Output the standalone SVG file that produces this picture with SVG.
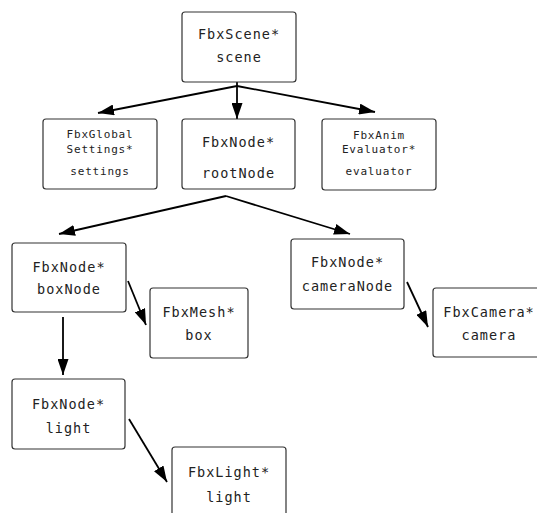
<svg xmlns="http://www.w3.org/2000/svg" width="537" height="513" viewBox="0 0 537 513">
<style>
.box{fill:#fff;stroke:#333;stroke-width:1.2}
.t{font-family:"DejaVu Sans Mono","Liberation Mono",monospace;font-size:13.5px;letter-spacing:1px;fill:#222;text-anchor:middle}
.s{font-family:"DejaVu Sans Mono","Liberation Mono",monospace;font-size:11px;letter-spacing:0.8px;fill:#222;text-anchor:middle}
.c{stroke:#000;stroke-width:1.8;fill:none;marker-end:url(#ah)}
</style>
<defs>
<marker id="ah" markerUnits="userSpaceOnUse" markerWidth="17" markerHeight="11" refX="16" refY="5.5" orient="auto">
<path d="M0,0 L16,5.5 L0,11 z" fill="#000"/>
</marker>
</defs>
<rect width="537" height="513" fill="#fff"/>
<g id="connectors">
<line class="c" x1="237" y1="82" x2="237" y2="119"/>
<line class="c" x1="237" y1="86" x2="98" y2="113"/>
<line class="c" x1="237" y1="86" x2="375" y2="112"/>
<line class="c" x1="226" y1="196" x2="59" y2="234"/>
<line class="c" x1="226" y1="196" x2="350" y2="234"/>
<line class="c" x1="128" y1="281" x2="146" y2="325"/>
<line class="c" x1="63" y1="317" x2="63" y2="375"/>
<line class="c" x1="407" y1="282" x2="428" y2="327"/>
<line class="c" x1="129" y1="419" x2="167" y2="482"/>
</g>
<g id="scene">
<rect class="box" x="182" y="12" width="114" height="70" rx="3"/>
<text class="t" x="239" y="39">FbxScene*</text>
<text class="t" x="239" y="62">scene</text>
</g>
<g id="settings">
<rect class="box" x="43" y="119" width="114" height="70" rx="3"/>
<text class="s" x="100" y="138">FbxGlobal</text>
<text class="s" x="100" y="153">Settings*</text>
<text class="s" x="100" y="175">settings</text>
</g>
<g id="rootNode">
<rect class="box" x="182" y="119" width="113" height="70" rx="3"/>
<text class="t" x="238.5" y="147">FbxNode*</text>
<text class="t" x="238.5" y="178">rootNode</text>
</g>
<g id="evaluator">
<rect class="box" x="322" y="119" width="114" height="71" rx="3"/>
<text class="s" x="379" y="139">FbxAnim</text>
<text class="s" x="379" y="153">Evaluator*</text>
<text class="s" x="379" y="175">evaluator</text>
</g>
<g id="boxNode">
<rect class="box" x="12" y="243" width="114" height="69" rx="3"/>
<text class="t" x="69" y="272">FbxNode*</text>
<text class="t" x="69" y="294">boxNode</text>
</g>
<g id="mesh">
<rect class="box" x="150" y="288" width="98" height="70" rx="3"/>
<text class="t" x="199" y="317">FbxMesh*</text>
<text class="t" x="199" y="340">box</text>
</g>
<g id="cameraNode">
<rect class="box" x="291" y="239" width="113" height="70" rx="3"/>
<text class="t" x="347.5" y="267">FbxNode*</text>
<text class="t" x="347.5" y="291">cameraNode</text>
</g>
<g id="camera">
<rect class="box" x="433" y="288" width="113" height="69" rx="3"/>
<text class="t" x="489" y="317">FbxCamera*</text>
<text class="t" x="489" y="340">camera</text>
</g>
<g id="lightNode">
<rect class="box" x="12" y="379" width="113" height="70" rx="3"/>
<text class="t" x="68.5" y="409">FbxNode*</text>
<text class="t" x="68.5" y="433">light</text>
</g>
<g id="light">
<rect class="box" x="172" y="447" width="114" height="72" rx="3"/>
<text class="t" x="229" y="477">FbxLight*</text>
<text class="t" x="229" y="502">light</text>
</g>
</svg>
